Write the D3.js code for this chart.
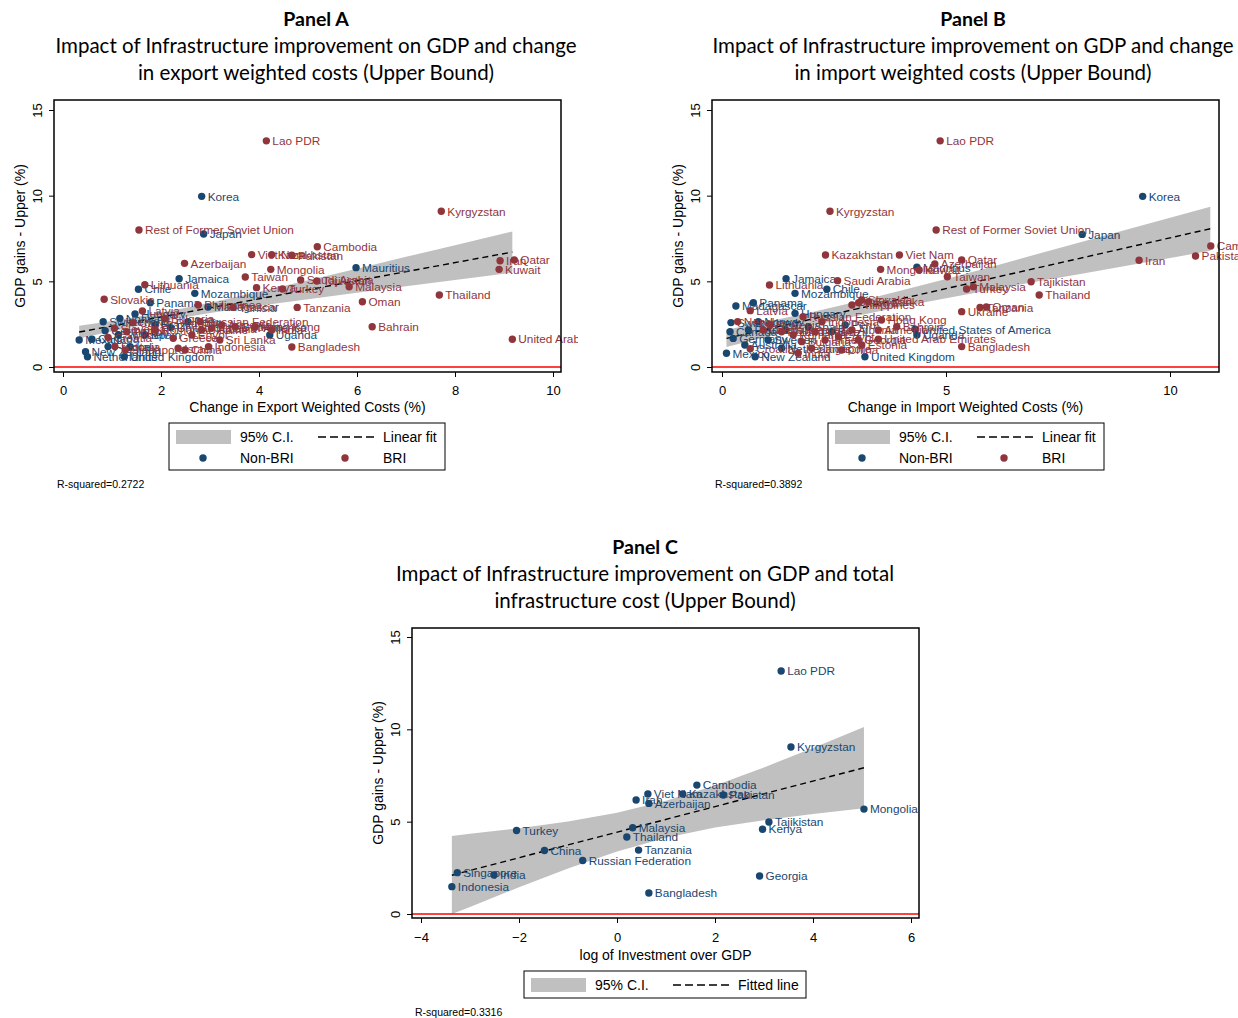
<!DOCTYPE html>
<html>
<head>
<meta charset="utf-8">
<style>
body{margin:0;background:#fff;}
svg text{font-family:"Liberation Sans",Arial,sans-serif;}
svg text.ttl{font-family:Lato,"Open Sans",sans-serif;}
</style>
</head>
<body>
<svg id="chart" width="1238" height="1018"></svg>
<script src="https://d3js.org/d3.v7.min.js"></script>
<script>

// ---------- data: panel A (export weighted costs) ----------
var aNonBri = [
  ["Korea",2.83,9.96],["Japan",2.87,7.76],["Mauritius",5.98,5.8],["Jamaica",2.37,5.15],
  ["Chile",1.54,4.54],["Mozambique",2.69,4.3],["Panama",1.78,3.75],["Madagascar",2.96,3.5],
  ["Uganda",4.22,1.87],["Mexico",0.33,1.58],["New Zealand",0.46,0.89],["Canada",0.59,1.62],
  ["Switzerland",0.82,2.64],["Germany",0.86,2.12],["France",0.92,1.19],["Netherlands",0.5,0.6],
  ["Norway",1.16,2.84],["Sweden",1.13,1.87],["Hungary",1.47,3.09],["Italy",1.37,1.19],
  ["Spain",1.67,1.87],["Brazil",1.88,2.45],["United Kingdom",1.25,0.6],["Peru",2.55,2.64],
  ["United States of America",2.2,2.3]
];
var aBri = [
  ["Lao PDR",4.15,13.2],["Kyrgyzstan",7.72,9.09],["Rest of Former Soviet Union",1.55,8.0],
  ["Cambodia",5.19,7.02],["Viet Nam",3.85,6.56],["Kazakhstan",4.26,6.56],["Pakistan",4.67,6.52],
  ["Iran",8.92,6.2],["Qatar",9.21,6.25],["Kuwait",8.9,5.7],["Azerbaijan",2.48,6.05],
  ["Mongolia",4.24,5.7],["Taiwan",3.72,5.25],["Saudi Arabia",4.85,5.08],["Tajikistan",5.18,5.02],
  ["Malaysia",5.84,4.68],["Kenya",3.95,4.63],["Turkey",4.48,4.55],["Thailand",7.68,4.2],
  ["Oman",6.11,3.81],["Tanzania",4.78,3.48],["Bahrain",6.31,2.35],["United Arab Emirates",9.17,1.62],
  ["Bangladesh",4.67,1.17],["India",4.26,2.16],["Sri Lanka",3.2,1.58],["Lithuania",1.67,4.8],
  ["Slovakia",0.84,3.95],["Philippines",2.76,3.62],["Tunisia",3.47,3.48],["Latvia",1.62,3.27],
  ["Russian Federation",2.8,2.64],["Croatia",0.92,1.73],["Slovenia",1.05,2.26],["Estonia",1.06,1.19],
  ["Poland",1.3,2.06],["Czech Republic",1.43,2.59],["Singapore",1.27,0.99],["Romania",1.88,2.16],
  ["Bulgaria",2.08,2.84],["Greece",2.25,1.68],["Israel",2.35,1.09],["Egypt",2.63,1.87],
  ["Ukraine",2.83,2.16],["Albania",3.03,2.26],["Armenia",3.24,2.45],["Georgia",3.51,2.35],
  ["Indonesia",2.97,1.19],["China",2.49,0.99],["Hong Kong",3.92,2.35]
];
var aBandX  = [0.33, 1, 2, 3, 4, 5, 6, 7, 8, 9.17];
var aBandLo = [1.67, 2.09, 2.67, 3.15, 3.57, 3.96, 4.34, 4.71, 5.08, 5.51];
var aBandHi = [2.41, 2.69, 3.17, 3.75, 4.39, 5.06, 5.74, 6.43, 7.10, 7.91];
var aFitX = [0.33, 9.17];
var aFitY = [2.04, 6.71];

// ---------- data: panel B (import weighted costs) ----------
var bNonBri = [
  ["Korea",9.39,9.96],["Japan",8.04,7.74],["Mauritius",4.35,5.82],["Jamaica",1.43,5.15],
  ["Chile",2.34,4.54],["Mozambique",1.63,4.3],["Panama",0.7,3.75],["Madagascar",0.31,3.56],
  ["Switzerland",0.2,2.59],["Canada",0.18,2.06],["Germany",0.25,1.67],["Mexico",0.1,0.8],
  ["France",0.59,2.16],["Australia",0.51,1.28],["New Zealand",0.74,0.6],["Norway",0.81,2.64],
  ["Sweden",1.03,1.58],["Hungary",1.63,3.13],["Italy",1.41,2.16],["Netherlands",1.33,1.09],
  ["Spain",1.93,2.35],["Brazil",2.45,2.06],["United Kingdom",3.19,0.6],
  ["United States of America",4.31,2.2],["Uganda",4.35,1.87],["Peru",2.75,2.45]
];
var bBri = [
  ["Lao PDR",4.87,13.2],["Kyrgyzstan",2.41,9.09],["Rest of Former Soviet Union",4.78,8.0],
  ["Kazakhstan",2.31,6.54],["Viet Nam",3.96,6.54],["Cambodia",10.91,7.06],["Pakistan",10.57,6.48],
  ["Iran",9.31,6.23],["Qatar",5.35,6.25],["Azerbaijan",4.75,6.01],["Mongolia",3.54,5.7],
  ["Kuwait",4.4,5.66],["Taiwan",5.03,5.27],["Saudi Arabia",2.58,5.04],["Malaysia",5.61,4.68],
  ["Turkey",5.46,4.55],["Tajikistan",6.9,4.98],["Thailand",7.08,4.2],["Tanzania",5.76,3.48],
  ["Oman",5.9,3.5],["Ukraine",5.35,3.23],["Bangladesh",5.35,1.19],["Lithuania",1.06,4.79],
  ["Slovakia",3.12,3.91],["Philippines",2.9,3.62],["Sri Lanka",3.27,3.81],["Kenya",3.05,3.75],
  ["Latvia",0.63,3.29],["Nepal",0.35,2.65],["Russian Federation",1.81,2.94],["Croatia",0.63,1.07],
  ["Slovenia",1.07,2.45],["Czech Republic",0.92,2.16],["Poland",1.33,2.06],["Romania",1.59,1.87],
  ["Bulgaria",1.78,1.48],["Singapore",2.0,1.09],["Greece",2.08,2.06],["Israel",2.3,1.58],
  ["Egypt",2.6,1.77],["Albania",2.9,2.16],["Georgia",3.04,1.58],["Armenia",3.49,2.16],
  ["Bahrain",3.9,2.35],["United Arab Emirates",3.49,1.62],["Estonia",3.12,1.28],["China",2.67,0.99],
  ["Indonesia",2.23,2.64],["India",1.7,0.8],["Hong Kong",3.56,2.74]
];
var bBandX  = [0.1, 1, 2, 3, 4, 5, 6, 7, 8, 9, 10.9];
var bBandLo = [1.17, 1.77, 2.40, 2.97, 3.51, 4.01, 4.50, 4.97, 5.43, 5.89, 6.78];
var bBandHi = [2.17, 2.64, 3.20, 3.81, 4.46, 5.14, 5.84, 6.56, 7.28, 8.00, 9.36];
var bFitX = [0.1, 10.9];
var bFitY = [1.67, 8.07];

// ---------- data: panel C (log investment over GDP) ----------
var cPoints = [
  ["Lao PDR",3.35,13.16],["Kyrgyzstan",3.55,9.04],["Cambodia",1.63,6.98],["Viet Nam",0.63,6.5],
  ["Kazakhstan",1.34,6.5],["Pakistan",2.17,6.44],["Iran",0.39,6.17],["Azerbaijan",0.65,5.99],
  ["Mongolia",5.04,5.68],["Tajikistan",3.1,4.98],["Kenya",2.97,4.59],["Malaysia",0.32,4.67],
  ["Thailand",0.2,4.17],["Turkey",-2.05,4.52],["China",-1.48,3.44],["Tanzania",0.44,3.46],
  ["Russian Federation",-0.7,2.9],["Singapore",-3.26,2.24],["India",-2.51,2.11],
  ["Indonesia",-3.37,1.48],["Georgia",2.91,2.06],["Bangladesh",0.65,1.14]
];
var cBandX  = [-3.37, -3, -2, -1, 0, 1, 2, 3, 4, 5.04];
var cBandLo = [0.0, 0.38, 1.45, 2.47, 3.38, 4.13, 4.68, 5.08, 5.41, 5.72];
var cBandHi = [4.23, 4.34, 4.65, 5.01, 5.48, 6.13, 6.96, 7.94, 8.99, 10.12];
var cFitX = [-3.37, 5.04];
var cFitY = [2.1, 7.92];

var yTicks = [0, 5, 10, 15];

var blue = "#1a476f";
var red = "#90353b";
var grey = "#c0c0c0";

var svg = d3.select("#chart");

var drawPanel = function(cfg)
{
    var g = svg.append("g");
    var x = d3.scaleLinear().domain(cfg.xDomain).range(cfg.xRange);
    var y = d3.scaleLinear().domain([0,15]).range(cfg.yRange);
    var box = cfg.box;

    // titles
    cfg.title.forEach(function(t,i)
    {
        g.append("text")
            .attr("class","ttl")
            .attr("x",cfg.cx)
            .attr("y",cfg.titleY + i*27)
            .attr("text-anchor","middle")
            .attr("font-size",i==0 ? 19.5 : 20.5)
            .attr("font-weight",i==0 ? "bold" : "normal")
            .text(t);
    });

    svg.append("clipPath").attr("id","clip"+cfg.id)
        .append("rect")
        .attr("x",box.x0).attr("y",box.y0)
        .attr("width",cfg.clipRight-box.x0)
        .attr("height",box.y1-box.y0);

    var plot = g.append("g").attr("clip-path","url(#clip"+cfg.id+")");

    // confidence band
    var area = d3.area()
        .x(function(d){return x(d[0]);})
        .y0(function(d){return y(d[1]);})
        .y1(function(d){return y(d[2]);});
    plot.append("path")
        .datum(d3.zip(cfg.bandX,cfg.bandLo,cfg.bandHi))
        .attr("d",area)
        .attr("fill",grey);

    // zero line
    plot.append("line")
        .attr("x1",box.x0).attr("x2",box.x1)
        .attr("y1",y(0)).attr("y2",y(0))
        .attr("stroke","#ff0000").attr("stroke-width",1.6);

    // fitted line
    plot.append("path")
        .datum(d3.zip(cfg.fitX,cfg.fitY))
        .attr("d",d3.line().x(function(d){return x(d[0]);}).y(function(d){return y(d[1]);}))
        .attr("fill","none")
        .attr("stroke","#000")
        .attr("stroke-width",1.4)
        .attr("stroke-dasharray","6,4");

    // scatter series
    cfg.series.forEach(function(s)
    {
        var sg = plot.append("g");
        sg.selectAll("circle")
            .data(s.data)
            .join("circle")
            .attr("cx",function(d){return x(d[1]);})
            .attr("cy",function(d){return y(d[2]);})
            .attr("r",3.7)
            .attr("fill",s.color);
        sg.selectAll("text")
            .data(s.data)
            .join("text")
            .attr("x",function(d){return x(d[1])+6;})
            .attr("y",function(d){return y(d[2]);})
            .attr("dy","0.36em")
            .attr("font-size",11.8)
            .attr("fill",s.color)
            .text(function(d){return d[0];});
    });

    // frame
    g.append("rect")
        .attr("x",box.x0).attr("y",box.y0)
        .attr("width",box.x1-box.x0).attr("height",box.y1-box.y0)
        .attr("fill","none").attr("stroke","#000").attr("stroke-width",1.5);

    // axes
    var xAxis = g.append("g")
        .attr("transform","translate(0,"+box.y1+")")
        .call(d3.axisBottom(x).tickValues(cfg.xTicks).tickSize(5).tickSizeOuter(0));
    xAxis.select(".domain").remove();
    xAxis.selectAll("text").attr("font-size",13).attr("font-family","Liberation Sans, Arial").attr("fill","#000").attr("y",cfg.xTickY);
    xAxis.selectAll("line").attr("stroke","#000");

    var yAxis = g.append("g")
        .attr("transform","translate("+box.x0+",0)")
        .call(d3.axisLeft(y).tickValues(yTicks).tickSize(5).tickSizeOuter(0));
    yAxis.select(".domain").remove();
    yAxis.selectAll("line").attr("stroke","#000");
    yAxis.selectAll("text")
        .attr("x",null).attr("dy",null)
        .attr("transform","translate(-12,0) rotate(-90)")
        .attr("text-anchor","middle")
        .attr("font-size",13).attr("font-family","Liberation Sans, Arial").attr("fill","#000");

    // axis titles
    g.append("text")
        .attr("x",(box.x0+box.x1)/2).attr("y",box.y1+cfg.xTitleDy)
        .attr("text-anchor","middle").attr("font-size",14)
        .text(cfg.xTitle);
    g.append("text")
        .attr("transform","translate("+(box.x0-29)+","+((box.y0+box.y1)/2)+") rotate(-90)")
        .attr("text-anchor","middle").attr("font-size",14)
        .text("GDP gains - Upper (%)");

    // legend
    var lg = g.append("g").attr("transform","translate("+cfg.legend.x+","+cfg.legend.y+")");
    lg.append("rect")
        .attr("width",cfg.legend.w).attr("height",cfg.legend.h)
        .attr("fill","#fff").attr("stroke","#000").attr("stroke-width",1);
    lg.append("rect").attr("x",7).attr("y",7).attr("width",55).attr("height",14).attr("fill",grey);
    lg.append("text").attr("x",71).attr("y",14).attr("dy","0.36em").attr("font-size",14).text("95% C.I.");
    lg.append("line").attr("x1",149).attr("x2",205).attr("y1",14).attr("y2",14)
        .attr("stroke","#000").attr("stroke-width",1.5).attr("stroke-dasharray","8,4");
    lg.append("text").attr("x",214).attr("y",14).attr("dy","0.36em").attr("font-size",14).text(cfg.legend.fitLabel);
    if(cfg.legend.groups)
    {
        lg.append("circle").attr("cx",34).attr("cy",35).attr("r",3.7).attr("fill",blue);
        lg.append("text").attr("x",71).attr("y",35).attr("dy","0.36em").attr("font-size",14).text("Non-BRI");
        lg.append("circle").attr("cx",176).attr("cy",35).attr("r",3.7).attr("fill",red);
        lg.append("text").attr("x",214).attr("y",35).attr("dy","0.36em").attr("font-size",14).text("BRI");
    }

    g.append("text")
        .attr("x",cfg.rsq.x).attr("y",cfg.rsq.y)
        .attr("font-size",10.5)
        .text(cfg.rsq.text);
};

drawPanel({
    id:"A", cx:316, titleY:26,
    title:["Panel A","Impact of Infrastructure improvement on GDP and change","in export weighted costs (Upper Bound)"],
    box:{x0:54,x1:561,y0:100,y1:372}, clipRight:578,
    xDomain:[0,10], xRange:[63,553], yRange:[367,110], xTicks:[0,2,4,6,8,10],
    xTickY:14, xTitleDy:40,
    bandX:aBandX, bandLo:aBandLo, bandHi:aBandHi, fitX:aFitX, fitY:aFitY,
    series:[{data:aNonBri,color:blue},{data:aBri,color:red}],
    xTitle:"Change in Export Weighted Costs (%)",
    legend:{x:169,y:423,w:276,h:47,fitLabel:"Linear fit",groups:true},
    rsq:{x:57,y:488,text:"R-squared=0.2722"}
});

drawPanel({
    id:"B", cx:973, titleY:26,
    title:["Panel B","Impact of Infrastructure improvement on GDP and change","in import weighted costs (Upper Bound)"],
    box:{x0:712,x1:1219,y0:100,y1:372}, clipRight:1238,
    xDomain:[0,10], xRange:[722,1170], yRange:[367,110], xTicks:[0,5,10],
    xTickY:14, xTitleDy:40,
    bandX:bBandX, bandLo:bBandLo, bandHi:bBandHi, fitX:bFitX, fitY:bFitY,
    series:[{data:bNonBri,color:blue},{data:bBri,color:red}],
    xTitle:"Change in Import Weighted Costs (%)",
    legend:{x:828,y:423,w:276,h:47,fitLabel:"Linear fit",groups:true},
    rsq:{x:715,y:488,text:"R-squared=0.3892"}
});

drawPanel({
    id:"C", cx:645, titleY:554,
    title:["Panel C","Impact of Infrastructure improvement on GDP and total","infrastructure cost (Upper Bound)"],
    box:{x0:412,x1:919,y0:628,y1:918}, clipRight:940,
    xDomain:[-4,6], xRange:[421,911], yRange:[914,637], xTicks:[-4,-2,0,2,4,6],
    xTickY:15, xTitleDy:42,
    bandX:cBandX, bandLo:cBandLo, bandHi:cBandHi, fitX:cFitX, fitY:cFitY,
    series:[{data:cPoints,color:blue}],
    xTitle:"log of Investment over GDP",
    legend:{x:524,y:971,w:282,h:27,fitLabel:"Fitted line",groups:false},
    rsq:{x:415,y:1016,text:"R-squared=0.3316"}
});

</script>
</body>
</html>
